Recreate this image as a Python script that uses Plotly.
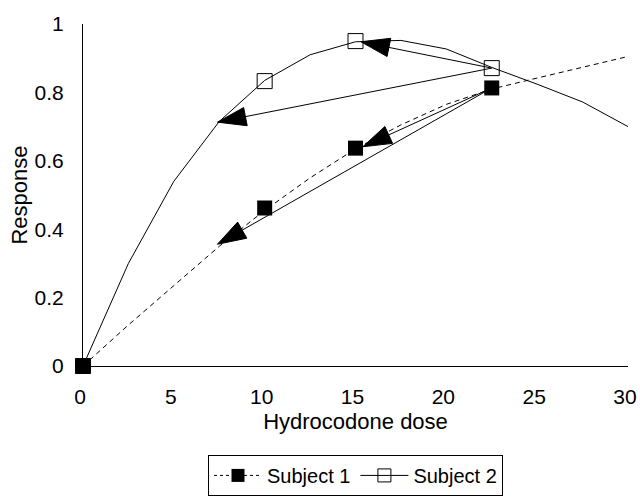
import plotly.graph_objects as go

# Model curves (dose grid)
curve_x = [0, 2.5, 5, 7.5, 10, 12.5, 15, 17.5, 20, 22.5, 25, 27.5, 30]
subj1_curve = [0, 0.12, 0.235, 0.35, 0.455, 0.55, 0.635, 0.705, 0.765, 0.81, 0.842, 0.873, 0.905]
subj2_curve = [0, 0.30, 0.54, 0.715, 0.835, 0.91, 0.948, 0.952, 0.927, 0.873, 0.824, 0.772, 0.70]

# Observed points
obs_x = [0, 10, 15, 22.5]
subj1_obs = [0, 0.462, 0.637, 0.813]
subj2_obs = [0, 0.833, 0.950, 0.871]

# Arrows (from -> to)
arrow_from_x = [22.5, 22.5, 22.5, 22.5]
arrow_from_y = [0.871, 0.871, 0.813, 0.813]
arrow_to_x = [15.3, 7.4, 15.4, 7.4]
arrow_to_y = [0.948, 0.713, 0.641, 0.356]

FONT = "Arial, Liberation Sans, sans-serif"

fig = go.Figure()

fig.add_trace(go.Scatter(x=curve_x, y=subj2_curve, mode="lines",
                         line=dict(color="black", width=1), showlegend=False,
                         hoverinfo="skip"))
fig.add_trace(go.Scatter(x=curve_x, y=subj1_curve, mode="lines",
                         line=dict(color="black", width=1, dash="5px,4px"),
                         showlegend=False, hoverinfo="skip"))

for fx, fy, tx, ty in zip(arrow_from_x, arrow_from_y, arrow_to_x, arrow_to_y):
    fig.add_trace(go.Scatter(
        x=[fx, tx], y=[fy, ty], mode="lines+markers",
        line=dict(color="black", width=1),
        marker=dict(symbol="arrow", size=[0, 30], angleref="previous",
                    color="black", opacity=1, line=dict(width=1, color="black")),
        showlegend=False, hoverinfo="skip", cliponaxis=False))

fig.add_trace(go.Scatter(x=obs_x, y=subj2_obs, mode="markers",
                         marker=dict(symbol="square-open", size=15, color="black",
                                     line=dict(width=1)),
                         showlegend=False, cliponaxis=False))
fig.add_trace(go.Scatter(x=obs_x, y=subj1_obs, mode="markers",
                         marker=dict(symbol="square", size=15, color="black"),
                         showlegend=False, cliponaxis=False))

# legend entries
fig.add_trace(go.Scatter(x=[None], y=[None], mode="lines+markers", name="Subject 1",
                         line=dict(color="black", width=1, dash="3px,3px"),
                         marker=dict(symbol="square", size=13, color="black")))
fig.add_trace(go.Scatter(x=[None], y=[None], mode="lines+markers", name="Subject 2",
                         line=dict(color="black", width=1),
                         marker=dict(symbol="square-open", size=13, color="black",
                                     line=dict(width=1))))

fig.update_layout(
    width=640, height=496,
    margin=dict(l=83, r=12, t=24, b=130, autoexpand=False),
    paper_bgcolor="white", plot_bgcolor="white",
    font=dict(family=FONT, size=20, color="black"),
    showlegend=True,
    legend=dict(orientation="h", x=0.5, xanchor="center", y=-0.26, yanchor="top",
                bordercolor="black", borderwidth=1,
                font=dict(family=FONT, size=20, color="black"),
                bgcolor="white", itemwidth=48),
    xaxis=dict(range=[0, 30], tickvals=[0, 5, 10, 15, 20, 25, 30],
               showgrid=False, zeroline=False, showline=True, linecolor="black",
               linewidth=1, ticks="", ticklabelstandoff=12, ticklabelshift=-3,
               automargin=False,
               tickfont=dict(family=FONT, size=21, color="black"),
               title=dict(text="Hydrocodone dose", standoff=6,
                          font=dict(family=FONT, size=22, color="black"))),
    yaxis=dict(range=[0, 1], tickvals=[0, 0.2, 0.4, 0.6, 0.8, 1],
               ticktext=["0", "0.2", "0.4", "0.6", "0.8", "1"],
               showgrid=False, zeroline=False, showline=True, linecolor="black",
               linewidth=1, ticks="", ticklabelstandoff=14, automargin=False,
               tickfont=dict(family=FONT, size=21, color="black"),
               title=dict(text="Response", standoff=0,
                          font=dict(family=FONT, size=22, color="black"))),
)

fig.write_html("out.html", config={"displayModeBar": False},
               post_script="document.body.style.margin='0';")
